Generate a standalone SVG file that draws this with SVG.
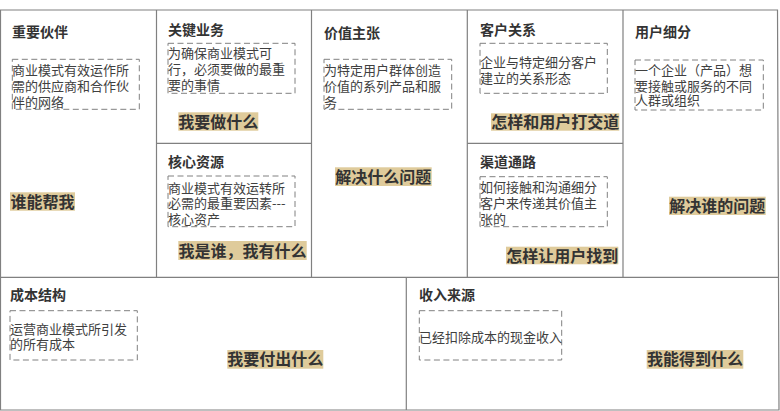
<svg xmlns="http://www.w3.org/2000/svg" width="780" height="411" viewBox="0 0 780 411">
<style>
.grid{fill:none;stroke:#808080;stroke-width:1.2}
.box{fill:none;stroke:#808080;stroke-width:1;stroke-dasharray:6 3.5}
.title{font-family:"Noto Sans CJK SC","Noto Sans",sans-serif;font-size:14px;font-weight:bold;fill:#333}
.body{font-family:"Noto Sans CJK SC","Noto Sans",sans-serif;font-size:13px;fill:#404040}
.hl{fill:#DFCB9B}
.hlt{font-family:"Noto Sans CJK SC","Noto Sans",sans-serif;font-size:16px;font-weight:bold;fill:#333}
</style>
<rect width="780" height="411" fill="#fff"/>
<g id="grid" class="grid">
<path d="M0.5 10 H777.5 L779 410 H0.5 Z"/>
<path d="M0.5 277.3 H778.5"/>
<path d="M156.5 10 V277.3 M311.5 10 V277.3 M467.3 10 V277.3 M623 10 V277.3"/>
<path d="M156.5 143.3 H311.5 M467.3 143.3 H623"/>
<path d="M406.3 277.3 V410"/>
</g>
<g id="key-partners">
<text class="title" x="12" y="37">重要伙伴</text>
<rect class="box" x="12.3" y="59.3" width="127" height="50"/>
<text class="body" x="12" y="75">商业模式有效运作所</text>
<text class="body" x="12" y="91">需的供应商和合作伙</text>
<text class="body" x="12" y="106.5">伴的网络</text>
<rect class="hl" x="10" y="192.3" width="65" height="18.4"/>
<text class="hlt" x="10.5" y="207.5">谁能帮我</text>
</g>
<g id="key-activities">
<text class="title" x="168" y="35">关键业务</text>
<rect class="box" x="168" y="43.3" width="127" height="50"/>
<text class="body" x="168" y="57.5">为确保商业模式可</text>
<text class="body" x="168" y="73.5">行，必须要做的最重</text>
<text class="body" x="168" y="89.5">要的事情</text>
<rect class="hl" x="178.3" y="112.3" width="80" height="18.4"/>
<text class="hlt" x="178.3" y="127.5">我要做什么</text>
</g>
<g id="key-resources">
<text class="title" x="168" y="167">核心资源</text>
<rect class="box" x="168" y="176" width="127" height="50.7"/>
<text class="body" x="168" y="192.5">商业模式有效运转所</text>
<text class="body" x="168" y="208">必需的最重要因素---</text>
<text class="body" x="168" y="224">核心资产</text>
<rect class="hl" x="178.3" y="241" width="128.4" height="19"/>
<text class="hlt" x="178.5" y="256.5">我是谁，我有什么</text>
</g>
<g id="value-propositions">
<text class="title" x="324" y="38">价值主张</text>
<rect class="box" x="324" y="59.3" width="127.7" height="50"/>
<text class="body" x="324" y="75">为特定用户群体创造</text>
<text class="body" x="324" y="91">价值的系列产品和服</text>
<text class="body" x="324" y="107">务</text>
<rect class="hl" x="335" y="167.3" width="96.7" height="18.7"/>
<text class="hlt" x="335.3" y="182.5">解决什么问题</text>
</g>
<g id="customer-relationships">
<text class="title" x="480" y="35">客户关系</text>
<rect class="box" x="480" y="43.3" width="127.3" height="50"/>
<text class="body" x="480" y="66.5">企业与特定细分客户</text>
<text class="body" x="480" y="83">建立的关系形态</text>
<rect class="hl" x="491" y="113.3" width="128.3" height="17.4"/>
<text class="hlt" x="491.2" y="128">怎样和用户打交道</text>
</g>
<g id="channels">
<text class="title" x="480" y="167">渠道通路</text>
<rect class="box" x="480" y="176.7" width="127.3" height="50"/>
<text class="body" x="480" y="191.5">如何接触和沟通细分</text>
<text class="body" x="480" y="208">客户来传递其价值主</text>
<text class="body" x="480" y="224">张的</text>
<rect class="hl" x="506" y="246.7" width="112.3" height="17.6"/>
<text class="hlt" x="506.2" y="261.5">怎样让用户找到</text>
</g>
<g id="customer-segments">
<text class="title" x="635" y="37">用户细分</text>
<rect class="box" x="635" y="60" width="128.3" height="50"/>
<text class="body" x="635" y="75">一个企业（产品）想</text>
<text class="body" x="635" y="90.5">要接触或服务的不同</text>
<text class="body" x="635" y="105">人群或组织</text>
<rect class="hl" x="669" y="196.7" width="96.7" height="18.3"/>
<text class="hlt" x="669.3" y="211.8">解决谁的问题</text>
</g>
<g id="cost-structure">
<text class="title" x="10" y="300">成本结构</text>
<rect class="box" x="10" y="310.7" width="127.3" height="49.3"/>
<text class="body" x="10" y="334">运营商业模式所引发</text>
<text class="body" x="10" y="349">的所有成本</text>
<rect class="hl" x="227.3" y="350" width="96" height="18.7"/>
<text class="hlt" x="227.3" y="365.3">我要付出什么</text>
</g>
<g id="revenue-streams">
<text class="title" x="419" y="300">收入来源</text>
<rect class="box" x="419.3" y="310.7" width="142.4" height="49.3"/>
<text class="body" x="419" y="341.5">已经扣除成本的现金收入</text>
<rect class="hl" x="646.7" y="350" width="96.6" height="18.7"/>
<text class="hlt" x="647" y="365.3">我能得到什么</text>
</g>
</svg>
